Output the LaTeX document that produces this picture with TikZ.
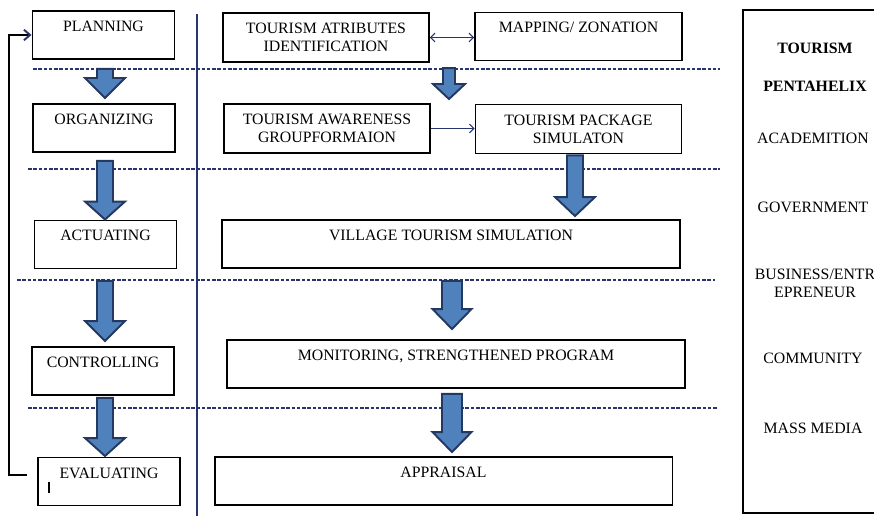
\documentclass[tikz,border=0pt]{standalone}
\usepackage{fontspec}
\setmainfont{Liberation Serif}
\usetikzlibrary{arrows.meta,positioning,calc}
\definecolor{arrblue}{RGB}{79,129,189}
\definecolor{arrnavy}{RGB}{36,56,96}
\definecolor{linenavy}{RGB}{40,52,110}
\newcommand{\boxfont}{\fontsize{9}{10.2}\selectfont}
\tikzset{
stagebox/.style={rectangle,draw=black,line width=1.1pt,minimum width=2.84cm,
  inner ysep=0pt,text height=0.41cm,text depth=0.55cm,font=\boxfont},
pairbox/.style={rectangle,draw=black,line width=1.1pt,minimum width=4.12cm,
  minimum height=0.98cm,inner ysep=0pt,align=center,font=\boxfont},
pairtop/.style={stagebox,minimum width=4.14cm},
widebox/.style={stagebox,minimum width=9.16cm},
panelbox/.style={rectangle,draw=black,line width=1.1pt,minimum width=2.94cm,minimum height=10.06cm},
paneltext/.style={align=center,font=\boxfont},
blockarr/.style={draw=arrnavy,line width=1.1pt,fill=arrblue},
thinarr/.style={draw=linenavy,line width=0.6pt,>={Straight Barb[length=2.5pt,width=5pt]}},
divline/.style={draw=linenavy,line width=0.6pt,dash pattern=on 2pt off 1pt},
loopline/.style={draw=black,line width=1.1pt,-{Straight Barb[length=3.5pt,width=6pt,color=linenavy]}}
}
% block arrow: start, target, shaft half width, head half width, head length, gap (px)
\newcommand{\bigdown}[6]{%
  \coordinate (tip) at ($(#1 |- #2)+(0,-#6)$);
  \draw[blockarr] ($(#1)+(-#3,0)$) -- ($(#1)+(#3,0)$) -- ($(tip)+(#3,-#5)$) -- ($(tip)+(#4,-#5)$)
    -- (tip) -- ($(tip)+(-#4,-#5)$) -- ($(tip)+(-#3,-#5)$) -- cycle;}

\begin{document}
\begin{tikzpicture}[x=0.02cm,y=-0.02cm]
\useasboundingbox (0,0) rectangle (874,516);
% dividers
\draw[draw=linenavy,line width=0.6pt] (197,14) -- (197,516);
\draw[divline] (33,69) -- (720,69);
\draw[divline] (28,169) -- (720,169);
\draw[divline] (17,280) -- (715,280);
\draw[divline] (28,408) -- (718,408);
% management stages
\node[stagebox] (plan) at (103.5,35) {PLANNING};
\node[stagebox] (org) at (104,128) {ORGANIZING};
\node[stagebox] (act) at (105.5,244.5) {ACTUATING};
\node[stagebox] (ctrl) at (103,371) {CONTROLLING};
\node[stagebox] (eval) at (109,481.5) {EVALUATING};
% village program
\node[pairbox] (attr) at (326,37.5) {TOURISM ATRIBUTES\\IDENTIFICATION};
\node[pairtop] (map) at (578.5,36.5) {MAPPING/ ZONATION};
\node[pairbox] (aware) at (327,128.5) {TOURISM AWARENESS\\GROUPFORMAION};
\node[pairbox] (pack) at (578.5,129) {TOURISM PACKAGE\\SIMULATON};
\node[widebox] (village) at (451,244) {VILLAGE TOURISM SIMULATION};
\node[widebox] (monit) at (456,364) {MONITORING, STRENGTHENED PROGRAM};
\node[widebox] (appr) at (443.5,481) {APPRAISAL};
% pentahelix
\node[panelbox] (penta) at (816.5,261.5) {};
\node[paneltext,font=\boxfont\bfseries] (tour) at (815,48) {TOURISM};
\node[paneltext,font=\boxfont\bfseries] (helix) at (815,86) {PENTAHELIX};
\node[paneltext] (acad) at (813,138) {ACADEMITION};
\node[paneltext] (gov) at (813,207) {GOVERNMENT};
\node[paneltext] (bus) at (815,283) {BUSINESS/ENTR\\EPRENEUR};
\node[paneltext] (comm) at (813,358) {COMMUNITY};
\node[paneltext] (media) at (813,428) {MASS MEDIA};
% thin links
\draw[thinarr,<->] (attr.east) -- (attr.east -| map.west);
\draw[thinarr,->] (aware.east) -- (aware.east -| pack.west);
% feedback loop
\draw[loopline] ($(eval.west)+(-10,-6.5)$) -- ++(-18,0) |- (plan.west);
\draw[line width=1pt] ($(eval.west)+(12,0.5)$) -- ++(0,11);
% block arrows
\coordinate (s1) at ($(plan.south)+(1.5,9)$);
\coordinate (s2) at ($(org.south)+(1,8)$);
\coordinate (s3) at ($(act.south)+(-0.5,11.5)$);
\coordinate (s4) at ($(ctrl.south)+(2,2)$);
\coordinate (s5) at ($($(attr.south east)!0.5!(map.south west)$)+(-3,6)$);
\coordinate (s6) at ($(pack.south)+(-3.5,1)$);
\coordinate (s7) at ($(village.south)+(1,12)$);
\coordinate (s8) at ($(monit.south)+(-4,5)$);
\bigdown{s1}{org.north}{8}{20}{20}{5}
\bigdown{s2}{act.north}{8}{20}{18}{0}
\bigdown{s3}{ctrl.north}{8}{20}{20}{5}
\bigdown{s4}{eval.north}{8}{20}{18}{0.5}
\bigdown{s5}{aware.north}{6}{16}{15}{4}
\bigdown{s6}{village.north}{8}{20}{19}{3}
\bigdown{s7}{monit.north}{10}{19.5}{20}{10}
\bigdown{s8}{appr.north}{10}{19.5}{20}{4}
\end{tikzpicture}
\end{document}
